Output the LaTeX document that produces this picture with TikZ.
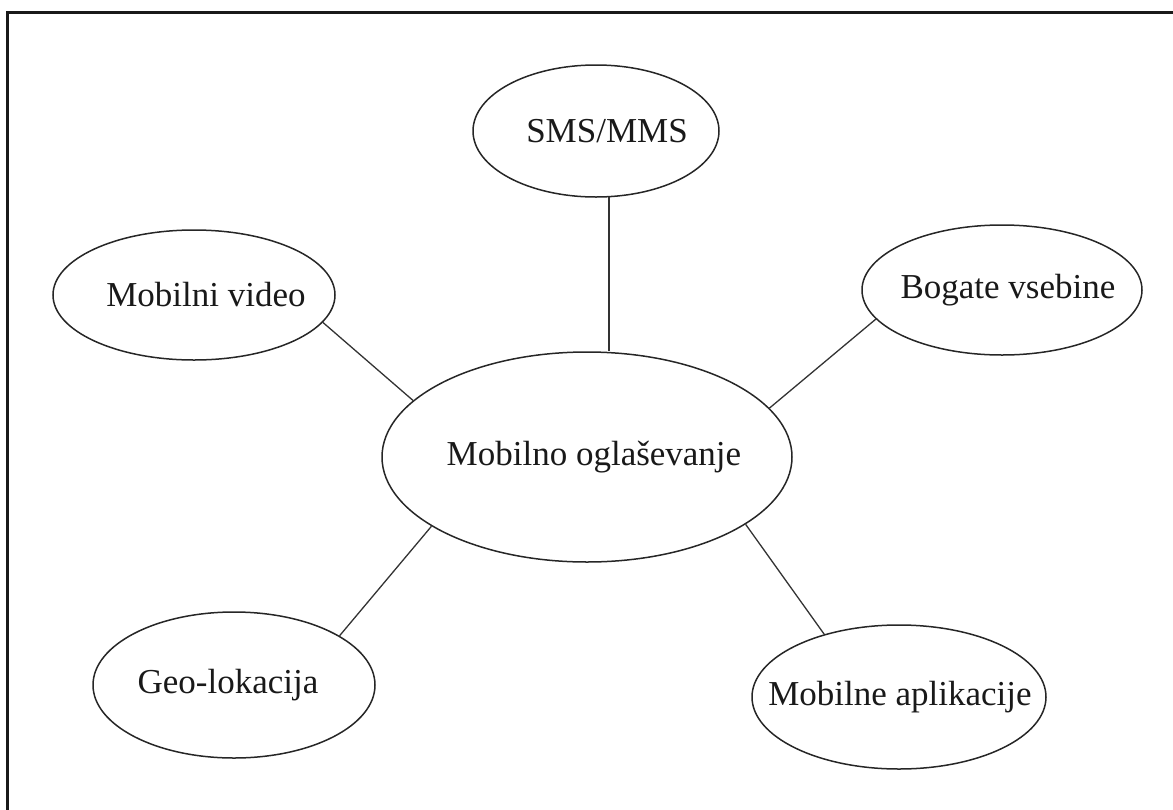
\documentclass[tikz,border=0pt]{standalone}
\usepackage{fontspec}
\setmainfont{Liberation Serif}
\usetikzlibrary{shapes.geometric}
% text centred at a horizontal offset #1 from the node centre
\newcommand\offtext[2]{\makebox[0pt]{\hspace*{#1}\hspace*{#1}#2}}
\begin{document}
\begin{tikzpicture}[x=1pt,y=-1pt,
  bubble/.style={ellipse,draw=black!85,line width=1.5pt,inner sep=0pt,
    font=\fontsize{35}{40}\selectfont,text=black!90},
  link/.style={draw=black!80,line width=1.3pt}]
  \useasboundingbox (0,0) rectangle (1173,809);
  \clip (0,0) rectangle (1173,809);
  % page frame (only the top and left edges fall inside the picture)
  \draw[line width=2.5pt,black!90] (7.5,900) -- (7.5,12.5) -- (1300,12.5);

  \node[bubble,minimum width=410pt,minimum height=210pt] (c) at (587,457)
    {\offtext{7pt}{Mobilno oglaševanje}};
  \node[bubble,minimum width=246pt,minimum height=132pt] (sms) at (596,131)
    {\offtext{11pt}{SMS/MMS}};
  \node[bubble,minimum width=282pt,minimum height=130pt] (video) at (194,295)
    {\offtext{12pt}{Mobilni video}};
  \node[bubble,minimum width=280pt,minimum height=130pt] (rich) at (1002,290)
    {\offtext{6pt}{Bogate vsebine}};
  \node[bubble,minimum width=282pt,minimum height=146pt] (geo) at (234,685)
    {\offtext{-6pt}{Geo-lokacija}};
  \node[bubble,minimum width=294pt,minimum height=144pt] (apps) at (899,697)
    {\offtext{1pt}{Mobilne aplikacije}};

  \draw[link] (sms.281) -- (sms.281 |- c.north);
  \draw[link] (video.348) -- (c.162.7);
  \draw[link] (rich.193.8) -- (c.15.8);
  \draw[link] (geo.25.3) -- (c.204.3);
  \draw[link] (apps.140.8) -- (c.337);
\end{tikzpicture}
\end{document}
